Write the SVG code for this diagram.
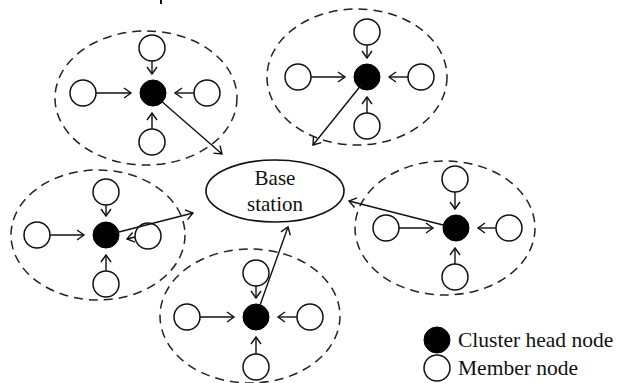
<svg xmlns="http://www.w3.org/2000/svg" width="617" height="383" viewBox="0 0 617 383">
  <style>
    .zone { fill: none; stroke: #222; stroke-width: 1.5; stroke-dasharray: 9 6; }
    .head { fill: #000; stroke: #000; stroke-width: 1; }
    .member { fill: none; stroke: #111; stroke-width: 1.5; }
    .bs { fill: #fff; stroke: #111; stroke-width: 1.6; }
    .link { stroke: #111; stroke-width: 1.4; fill: none; marker-end: url(#arrow); }
    .label { font-family: "Liberation Serif", "Times New Roman", serif; font-size: 21px; fill: #111; }
    .legend-label { font-size: 21.5px; }
  </style>
  <defs>
    <marker id="arrow" markerUnits="userSpaceOnUse" markerWidth="12" markerHeight="14" refX="8" refY="6" orient="auto">
      <path d="M1,1 L8,6 L1,11" fill="none" stroke="#111" stroke-width="1.4"/>
    </marker>
  </defs>

  <!-- clipped text fragment at the top edge -->
  <rect x="160" y="0" width="2" height="4" fill="#111"/>

  <!-- base station -->
  <g id="base-station">
    <ellipse class="bs" cx="275" cy="191" rx="69" ry="31"/>
    <text class="label" x="275" y="185" text-anchor="middle">Base</text>
    <text class="label" x="275" y="211" text-anchor="middle">station</text>
  </g>

  <!-- cluster 1: upper left -->
  <g id="cluster-1">
    <ellipse class="zone" cx="146" cy="98" rx="91" ry="67"/>
    <circle id="c1-head" class="head" cx="153" cy="93" r="13"/>
    <circle id="c1-top" class="member" cx="152" cy="48" r="13"/>
    <circle id="c1-left" class="member" cx="83" cy="93" r="13"/>
    <circle id="c1-right" class="member" cx="207" cy="93" r="13"/>
    <circle id="c1-bottom" class="member" cx="152" cy="142" r="13"/>
  </g>

  <!-- cluster 2: upper right -->
  <g id="cluster-2">
    <ellipse class="zone" cx="357" cy="77" rx="90" ry="68"/>
    <circle id="c2-head" class="head" cx="367" cy="77" r="13"/>
    <circle id="c2-top" class="member" cx="367" cy="32" r="13"/>
    <circle id="c2-left" class="member" cx="298" cy="77" r="13"/>
    <circle id="c2-right" class="member" cx="421" cy="77" r="13"/>
    <circle id="c2-bottom" class="member" cx="367" cy="126" r="13"/>
  </g>

  <!-- cluster 3: middle left -->
  <g id="cluster-3">
    <ellipse class="zone" cx="98" cy="235" rx="87" ry="65"/>
    <circle id="c3-head" class="head" cx="106" cy="235" r="13"/>
    <circle id="c3-top" class="member" cx="106" cy="192" r="13"/>
    <circle id="c3-left" class="member" cx="37" cy="235" r="13"/>
    <circle id="c3-right" class="member" cx="148" cy="236" r="13"/>
    <circle id="c3-bottom" class="member" cx="106" cy="284" r="13"/>
  </g>

  <!-- cluster 4: middle right -->
  <g id="cluster-4">
    <ellipse class="zone" cx="445" cy="228" rx="90" ry="67"/>
    <circle id="c4-head" class="head" cx="456" cy="228" r="13"/>
    <circle id="c4-top" class="member" cx="455" cy="179" r="13"/>
    <circle id="c4-left" class="member" cx="386" cy="228" r="13"/>
    <circle id="c4-right" class="member" cx="509" cy="228" r="13"/>
    <circle id="c4-bottom" class="member" cx="455" cy="277" r="13"/>
  </g>

  <!-- cluster 5: bottom -->
  <g id="cluster-5">
    <ellipse class="zone" cx="250" cy="316" rx="90" ry="67"/>
    <circle id="c5-head" class="head" cx="256" cy="317" r="13"/>
    <circle id="c5-top" class="member" cx="256" cy="273" r="13"/>
    <circle id="c5-left" class="member" cx="187" cy="317" r="13"/>
    <circle id="c5-right" class="member" cx="310" cy="317" r="13"/>
    <circle id="c5-bottom" class="member" cx="256" cy="367" r="13"/>
  </g>

  <!-- member-to-head and head-to-base links -->
  <g id="connectors">
    <!-- cluster 1 -->
    <line class="link" x1="96" y1="93" x2="131" y2="93"/>
    <line class="link" x1="152" y1="61" x2="152" y2="74"/>
    <line class="link" x1="194" y1="93" x2="175" y2="93"/>
    <line class="link" x1="152" y1="129" x2="152" y2="113"/>
    <line class="link" x1="160" y1="100" x2="222" y2="154"/>
    <!-- cluster 2 -->
    <line class="link" x1="311" y1="77" x2="345" y2="77"/>
    <line class="link" x1="367" y1="45" x2="367" y2="58"/>
    <line class="link" x1="408" y1="77" x2="389" y2="77"/>
    <line class="link" x1="367" y1="113" x2="367" y2="97"/>
    <line class="link" x1="362" y1="84" x2="313" y2="145"/>
    <!-- cluster 3 -->
    <line class="link" x1="50" y1="235" x2="84" y2="235"/>
    <line class="link" x1="106" y1="205" x2="106" y2="216"/>
    <line class="link" x1="135" y1="237" x2="127" y2="239"/>
    <line class="link" x1="106" y1="271" x2="106" y2="255"/>
    <line class="link" x1="115" y1="233" x2="193" y2="213"/>
    <!-- cluster 4 -->
    <line class="link" x1="399" y1="228" x2="433" y2="228"/>
    <line class="link" x1="455" y1="192" x2="455" y2="209"/>
    <line class="link" x1="496" y1="228" x2="478" y2="228"/>
    <line class="link" x1="455" y1="264" x2="455" y2="248"/>
    <line class="link" x1="447" y1="226" x2="349" y2="201"/>
    <!-- cluster 5 -->
    <line class="link" x1="200" y1="317" x2="234" y2="317"/>
    <line class="link" x1="256" y1="286" x2="256" y2="298"/>
    <line class="link" x1="297" y1="317" x2="278" y2="317"/>
    <line class="link" x1="256" y1="354" x2="256" y2="337"/>
    <line class="link" x1="259" y1="308" x2="288" y2="227"/>
  </g>

  <!-- legend -->
  <g id="legend">
    <circle class="head" cx="437" cy="340" r="13"/>
    <text class="label legend-label" x="458" y="347">Cluster head node</text>
    <circle class="member" cx="437" cy="368" r="13"/>
    <text class="label legend-label" x="458" y="375">Member node</text>
  </g>
</svg>
